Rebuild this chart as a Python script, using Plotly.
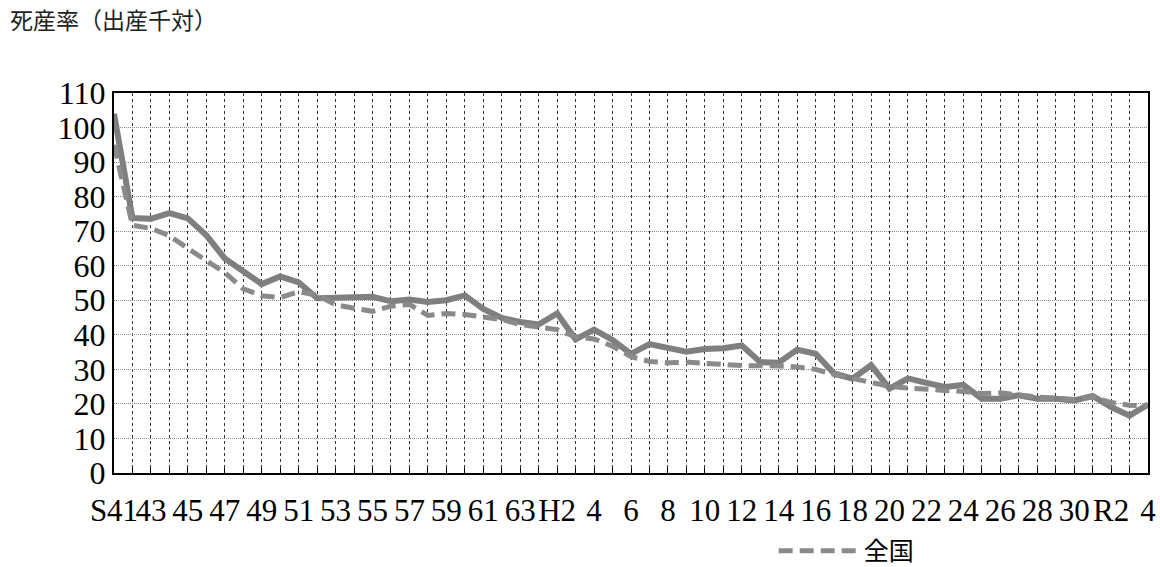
import plotly.graph_objects as go

categories = ["S41", "42", "43", "44", "45", "46", "47", "48", "49", "50",
              "51", "52", "53", "54", "55", "56", "57", "58", "59", "60",
              "61", "62", "63", "H1", "H2", "3", "4", "5", "6", "7",
              "8", "9", "10", "11", "12", "13", "14", "15", "16", "17",
              "18", "19", "20", "21", "22", "23", "24", "25", "26", "27",
              "28", "29", "30", "R1", "R2", "3", "4"]

pref_values = [104.0, 73.8, 73.6, 75.2, 73.7, 68.8, 62.1, 58.6, 54.7, 56.9,
               55.2, 50.6, 50.7, 51.0, 51.0, 49.7, 50.2, 49.5, 50.0, 51.4,
               47.5, 44.9, 43.7, 43.0, 46.2, 38.7, 41.5, 38.5, 34.5, 37.3,
               36.4, 35.1, 35.9, 36.1, 36.9, 32.1, 31.9, 35.7, 34.5, 28.8,
               27.3, 31.2, 24.4, 27.4, 26.1, 24.9, 25.5, 21.5, 21.5, 22.5,
               21.5, 21.5, 21.0, 22.3, 19.1, 16.6, 19.8]

national_values = [95.0, 71.7, 70.8, 68.7, 65.0, 61.4, 58.0, 53.3, 51.3, 50.8,
                   52.5, 51.5, 48.7, 47.7, 46.8, 48.3, 48.8, 45.6, 46.2, 45.9,
                   45.1, 44.4, 43.0, 42.3, 41.5, 39.4, 38.8, 36.7, 33.7, 32.3,
                   31.9, 32.1, 31.6, 31.4, 31.1, 31.1, 31.0, 30.7, 30.0, 28.5,
                   27.3, 26.2, 25.1, 24.6, 24.1, 23.9, 23.6, 23.0, 23.2, 22.5,
                   22.0, 21.7, 21.3, 22.0, 20.4, 19.6, 19.5]

y_ticks = [0, 10, 20, 30, 40, 50, 60, 70, 80, 90, 100, 110]

idx = list(range(len(categories)))
tick_text = [c if i % 2 == 0 else "" for i, c in enumerate(categories)]

fig = go.Figure()
fig.add_trace(go.Scatter(
    x=idx, y=pref_values, mode="lines", name="県", showlegend=False,
    line=dict(color="#7f7f7f", width=6),
    hovertext=categories,
))
fig.add_trace(go.Scatter(
    x=idx, y=national_values, mode="lines", name="全国",
    line=dict(color="#8a8a8a", width=5, dash="14px,7px"),
    hovertext=categories,
))

font_family = "Liberation Serif, Noto Sans CJK JP, serif"

fig.update_layout(
    width=1160, height=567,
    margin=dict(l=114, r=12, t=93, b=94, autoexpand=False),
    paper_bgcolor="white", plot_bgcolor="white",
    font=dict(family=font_family, color="black", size=31),
    title=dict(text="死産率（出産千対）", xref="container", yref="container",
               x=10 / 1160, xanchor="left", y=1 - 21 / 567, yanchor="middle",
               font=dict(size=23, family="Noto Sans CJK JP", color="#222")),
    showlegend=True,
    legend=dict(orientation="h", x=0.638, xanchor="left", y=-0.205, yanchor="middle",
                itemwidth=80,
                font=dict(size=25, family="Noto Sans CJK JP"), bgcolor="rgba(0,0,0,0)"),
)

fig.update_xaxes(
    range=[0, len(categories) - 1], automargin=False,
    tickmode="array", tickvals=idx, ticktext=tick_text,
    showgrid=True, gridcolor="#333333", gridwidth=1, griddash="3px,3px",
    ticks="inside", ticklen=5, tickcolor="black", tickwidth=1,
    showline=True, linecolor="black", linewidth=2, mirror=True,
    zeroline=False, tickangle=0, ticklabelstandoff=9,
    tickfont=dict(size=31, family=font_family),
)
fig.update_yaxes(
    range=[0, 110], automargin=False,
    tickmode="array", tickvals=y_ticks,
    showgrid=True, gridcolor="#8c8c8c", gridwidth=1, griddash="1px,1px",
    ticks="", showline=True, linecolor="black", linewidth=2, mirror=True,
    zeroline=False,
    tickfont=dict(size=32, family=font_family),
)

fig.write_html(
    "out.html",
    config={"displayModeBar": False},
    post_script="document.body.style.margin='0';document.body.style.overflow='hidden';",
)
